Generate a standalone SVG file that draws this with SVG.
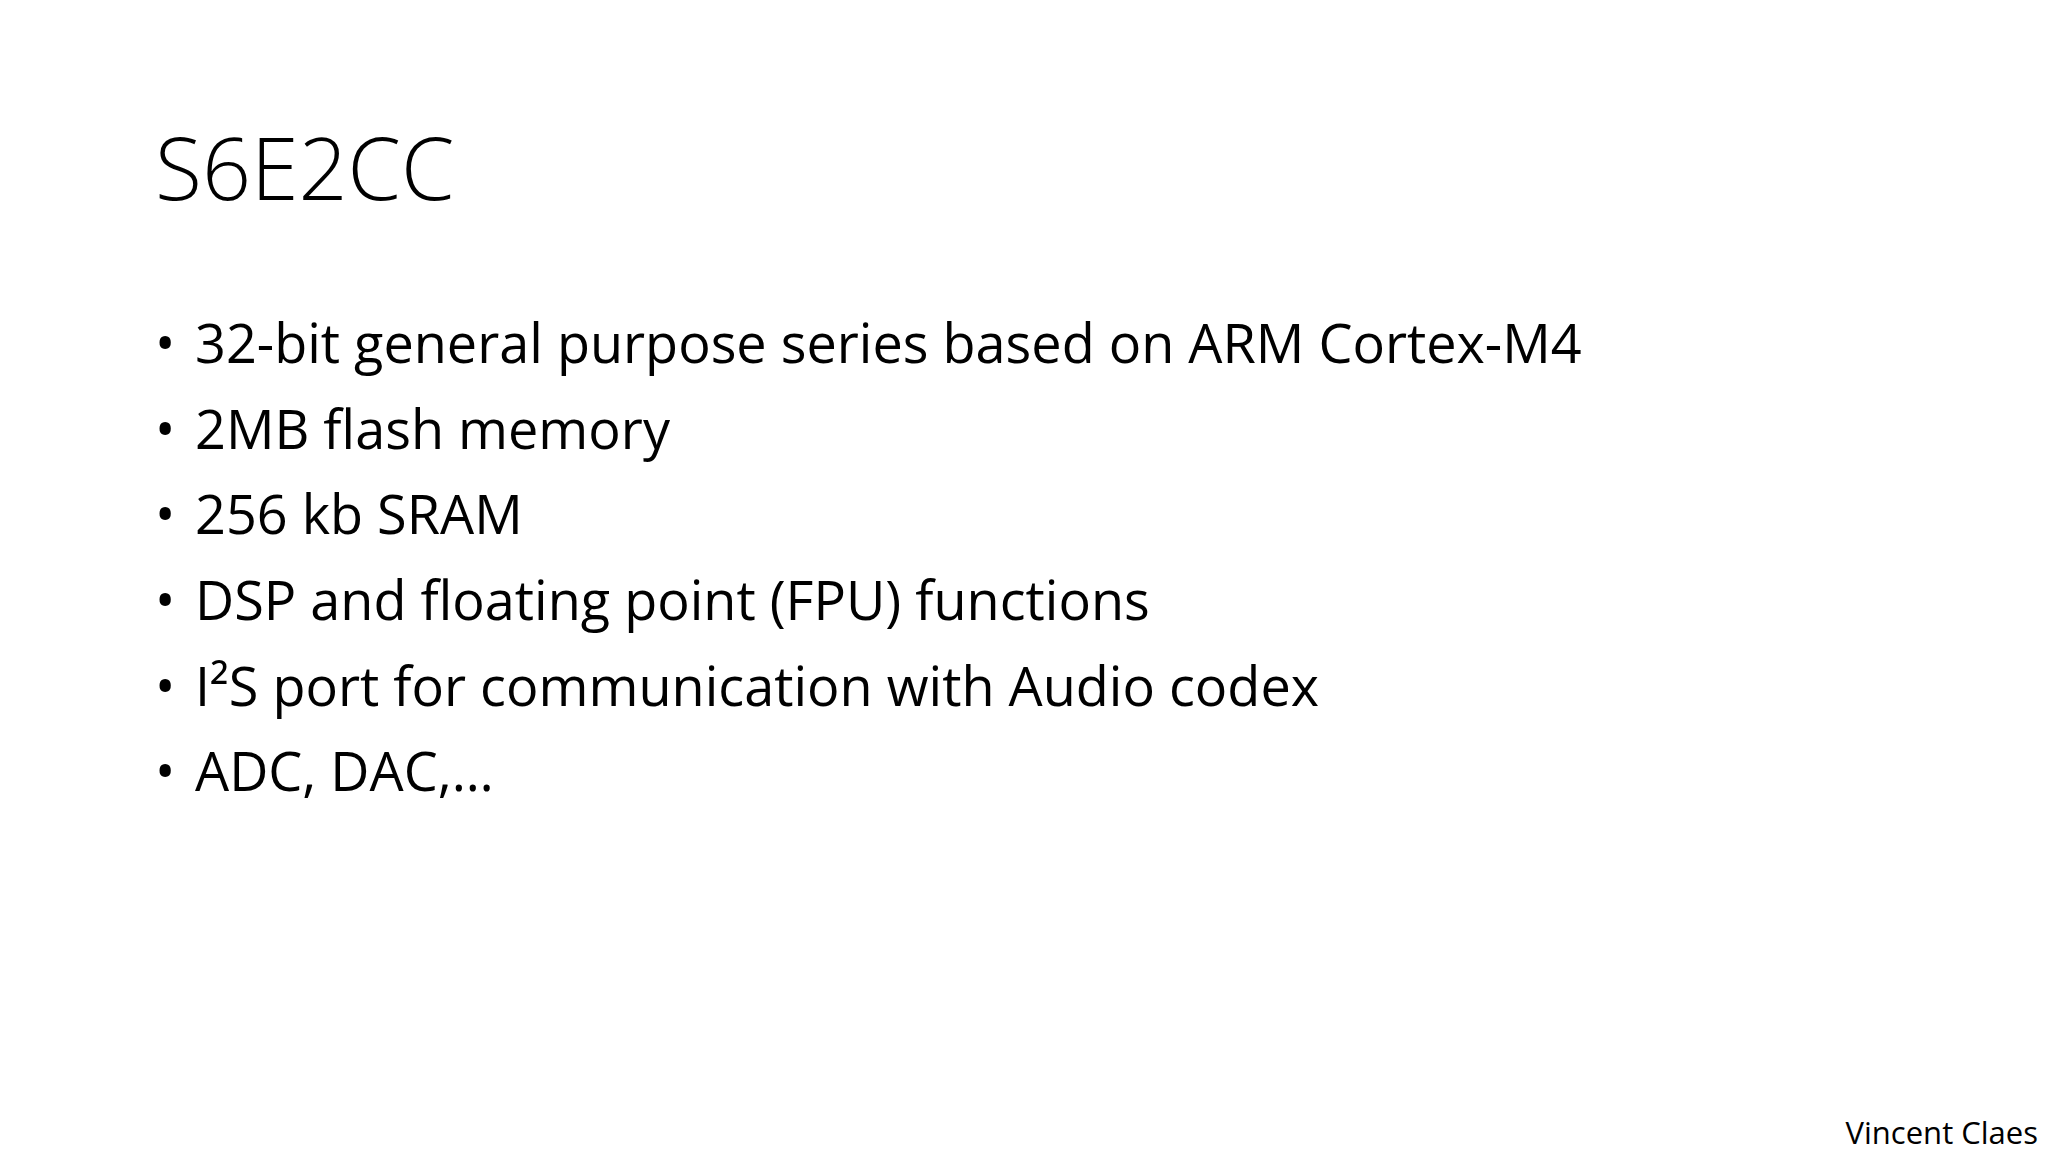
<svg xmlns="http://www.w3.org/2000/svg" width="2048" height="1152" viewBox="0 0 2048 1152">
<style>
.t{font-family:"Open Sans","Liberation Sans",sans-serif;fill:#000}
.b{font-size:54px}
</style>
<rect width="2048" height="1152" fill="#fff"/>
<g id="title"><text class="t" x="155" y="200" font-size="86" font-weight="300">S6E2CC</text></g>
<g id="bullets" class="t b">
<text x="155" y="363">•</text><text x="195" y="363">32-bit general purpose series based on ARM Cortex-M4</text>
<text x="155" y="449">•</text><text x="195" y="449">2MB flash memory</text>
<text x="155" y="534">•</text><text x="195" y="534">256 kb SRAM</text>
<text x="155" y="620">•</text><text x="195" y="620">DSP and floating point (FPU) functions</text>
<text x="155" y="706">•</text><text x="195" y="706">I²S port for communication with Audio codex</text>
<text x="155" y="791">•</text><text x="195" y="791">ADC, DAC,…</text>
</g>
<g id="footer"><text class="t" x="2038" y="1144" font-size="31" text-anchor="end">Vincent Claes</text></g>
</svg>
